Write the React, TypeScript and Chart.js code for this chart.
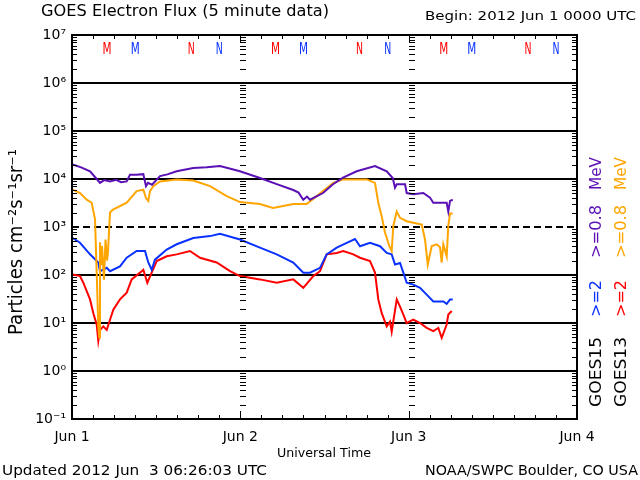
import React, { useEffect, useRef } from "react";
import { Chart, registerables } from "chart.js";

Chart.register(...registerables);

// ---------- DATA ----------
// hours since 2012 Jun 1 00:00 UTC
const purpleHours = [0.1, 1.3, 2.57, 3.4, 3.99, 4.6, 5.42, 6.3, 7.0, 7.8, 8.27, 9.2, 10.17, 10.55, 10.84, 11.4, 12.55, 13.6, 14.93, 17.29, 19.2, 21.1, 23.95, 26.8, 29.19, 31.55, 32.3, 32.98, 33.5, 33.93, 35.79, 37.21, 38.64, 40.59, 43.2, 44.87, 45.73, 46.05, 46.3, 47.48, 47.72, 48.66, 50.09, 51.04, 51.51, 53.42, 53.65, 53.9, 54.28];
const purpleFlux = [2.0e4, 1.75e4, 1.45e4, 1.05e4, 8.3e3, 9.5e3, 8.9e3, 9.6e3, 8.6e3, 8.9e3, 1.23e4, 1.22e4, 1.26e4, 7.1e3, 8.3e3, 7.6e3, 1.15e4, 1.25e4, 1.45e4, 1.7e4, 1.75e4, 1.86e4, 1.45e4, 1.05e4, 7.8e3, 5.9e3, 5.2e3, 3.7e3, 4.3e3, 3.7e3, 5.1e3, 7.8e3, 1.07e4, 1.45e4, 1.86e4, 1.45e4, 1.05e4, 6.6e3, 7.8e3, 7.8e3, 5.1e3, 4.8e3, 5.1e3, 4.1e3, 3.2e3, 3.2e3, 2.1e3, 3.5e3, 3.7e3];

const orangeHours = [0.1, 1.14, 2.1, 2.81, 3.28, 3.52, 3.75, 3.89, 3.99, 4.13, 4.28, 4.56, 4.78, 4.99, 5.13, 5.42, 5.85, 7.8, 9.22, 10.17, 10.55, 10.88, 11.12, 11.59, 12.55, 14.93, 17.29, 19.68, 22.06, 23.95, 26.8, 28.66, 31.55, 33.46, 34.89, 37.26, 38.68, 42.02, 43.2, 43.67, 44.16, 44.63, 44.95, 45.24, 45.58, 45.81, 46.3, 46.77, 47.72, 48.66, 49.86, 50.33, 50.72, 51.29, 52.0, 52.47, 52.71, 52.94, 53.42, 53.65, 53.9, 54.28];
const orangeFlux = [6.0e3, 5.1e3, 3.7e3, 3.2e3, 1.45e3, 112, 8.5, 5.0, 480, 160, 400, 80, 550, 200, 300, 2.0e3, 2.3e3, 3.2e3, 5.6e3, 6.0e3, 4.0e3, 3.5e3, 5.6e3, 7.1e3, 8.9e3, 9.8e3, 9.3e3, 7.1e3, 4.4e3, 3.3e3, 3.0e3, 2.5e3, 3.0e3, 3.0e3, 4.4e3, 8.3e3, 9.8e3, 9.8e3, 8.3e3, 3.2e3, 1.66e3, 760, 550, 400, 316, 1.05e3, 2.1e3, 1.55e3, 1.32e3, 1.23e3, 1.12e3, 550, 166, 400, 436, 380, 182, 436, 245, 1.05e3, 1.9e3, 1.9e3];

const blueHours = [0.1, 1.14, 2.57, 3.75, 3.99, 4.95, 5.42, 6.84, 7.8, 9.22, 10.41, 10.88, 11.36, 11.83, 13.5, 14.93, 17.29, 19.68, 21.1, 23.95, 26.8, 29.19, 31.55, 32.98, 33.93, 35.36, 36.31, 37.74, 39.17, 40.35, 41.06, 42.49, 43.92, 44.87, 45.58, 46.05, 46.77, 47.24, 47.72, 48.66, 49.62, 50.57, 51.51, 52.94, 53.42, 53.9, 54.28];
const blueFlux = [590, 470, 270, 182, 120, 141, 120, 151, 229, 316, 316, 182, 129, 209, 339, 437, 589, 646, 724, 550, 372, 269, 182, 112, 112, 141, 269, 372, 468, 562, 398, 468, 398, 288, 269, 166, 178, 112, 69, 63, 54, 39, 28, 28, 25, 31, 31];

const redHours = [0.1, 1.14, 1.61, 2.57, 3.04, 3.52, 3.75, 3.99, 4.46, 4.95, 5.42, 5.89, 6.84, 7.8, 8.51, 9.7, 10.17, 10.74, 11.36, 12.08, 13.5, 14.93, 16.82, 18.25, 20.63, 22.53, 23.95, 26.8, 29.19, 31.55, 32.98, 34.4, 35.36, 36.31, 37.74, 38.68, 40.11, 41.06, 42.49, 43.2, 43.67, 44.16, 44.87, 45.34, 45.58, 46.3, 46.77, 47.24, 47.72, 48.66, 49.62, 50.57, 51.51, 52.23, 52.71, 53.42, 53.65, 54.14];
const redFlux = [102, 95, 69, 31, 16, 9.3, 4.2, 7.1, 8.5, 7.2, 11.7, 19, 31, 43, 81, 112, 129, 69, 112, 195, 245, 269, 316, 229, 182, 120, 95, 81, 69, 81, 54, 95, 120, 269, 288, 316, 269, 229, 195, 112, 31, 16, 8.5, 10.7, 6.6, 31, 22, 15, 10, 11.7, 10, 7.9, 6.8, 7.9, 4.9, 9.3, 15, 17.8];

const yTickValues = [0.1, 1, 10, 100, 1e3, 1e4, 1e5, 1e6, 1e7];
const yTickLabels = ["10⁻¹", "10⁰", "10¹", "10²", "10³", "10⁴", "10⁵", "10⁶", "10⁷"];
const xTickHours = [0, 24, 48, 72];
const xTickLabels = ["Jun 1", "Jun 2", "Jun 3", "Jun 4"];

// local midnight (M) / noon (N) markers, hours UT
const goes13MidnightHours = [5, 29, 53];
const goes13NoonHours = [17, 41, 65];
const goes15MidnightHours = [9, 33, 57];
const goes15NoonHours = [21, 45, 69];

const PURPLE = "#5a10b4";
const ORANGE = "#ffa500";
const BLUE = "#0a32ff";
const RED = "#ff0000";
const FONT = "'DejaVu Sans'";

function fitText(
  ctx: CanvasRenderingContext2D,
  text: string,
  x: number,
  y: number,
  w: number,
  size: number,
  align: CanvasTextAlign,
  color: string,
  rotate = 0
) {
  ctx.save();
  ctx.font = `${size}px ${FONT}`;
  const m = ctx.measureText(text).width;
  const sx = w / m;
  ctx.translate(x, y);
  if (rotate) ctx.rotate(rotate);
  ctx.scale(sx, 1);
  ctx.textAlign = align;
  ctx.textBaseline = "middle";
  ctx.fillStyle = color;
  ctx.fillText(text, 0, 0);
  ctx.restore();
}

const framePlugin = {
  id: "goesFrame",
  afterDatasetsDraw(chart: any) {
    const ctx: CanvasRenderingContext2D = chart.ctx;
    const { left, right, top, bottom } = chart.chartArea;
    const xs = chart.scales.x;
    const ys = chart.scales.y;
    ctx.save();
    ctx.strokeStyle = "#000";
    // frame
    ctx.lineWidth = 2;
    ctx.strokeRect(left, top, right - left, bottom - top);
    // minor y ticks
    ctx.lineWidth = 1;
    ctx.beginPath();
    const dayX = [24, 48].map((h) => Math.round(xs.getPixelForValue(h)));
    for (let d = -1; d < 7; d++) {
      for (let k = 2; k <= 9; k++) {
        const y = Math.round(ys.getPixelForValue(k * Math.pow(10, d))) + 0.5;
        ctx.moveTo(left, y);
        ctx.lineTo(left + 5, y);
        ctx.moveTo(right - 5, y);
        ctx.lineTo(right, y);
        for (const dx of dayX) {
          ctx.moveTo(dx, y);
          ctx.lineTo(dx + 6, y);
        }
      }
    }
    ctx.stroke();
    // x ticks every 3h
    ctx.beginPath();
    for (let h = 3; h < 72; h += 3) {
      const x = Math.round(xs.getPixelForValue(h)) + 0.5;
      const len = h % 24 === 0 ? 8 : 4;
      ctx.moveTo(x, top);
      ctx.lineTo(x, top + len);
      ctx.moveTo(x, bottom);
      ctx.lineTo(x, bottom - len);
    }
    ctx.stroke();
    ctx.restore();

    // M / N markers
    const markers: [number[], string, string][] = [
      [goes13MidnightHours, "M", RED],
      [goes15MidnightHours, "M", BLUE],
      [goes13NoonHours, "N", RED],
      [goes15NoonHours, "N", BLUE],
    ];
    for (const [hours, label, color] of markers) {
      for (const h of hours) {
        fitText(ctx, label, xs.getPixelForValue(h), 50, label === "M" ? 9 : 7, 15, "center", color);
      }
    }

    // titles
    fitText(ctx, "GOES Electron Flux (5 minute data)", 41, 12, 288, 15, "left", "#000");
    fitText(ctx, "Begin: 2012 Jun 1 0000 UTC", 636, 16.5, 211, 13, "right", "#000");
    fitText(ctx, "Universal Time", 324, 454, 94, 13, "center", "#000");
    fitText(ctx, "Updated 2012 Jun  3 06:26:03 UTC", 2, 471, 265, 14, "left", "#000");
    fitText(ctx, "NOAA/SWPC Boulder, CO USA", 638, 471, 213, 14, "right", "#000");
    fitText(ctx, "Particles cm⁻²s⁻¹sr⁻¹", 17, 242, 186, 19, "center", "#000", -Math.PI / 2);

    // right-side legend
    const cols: [number, string, string, string][] = [
      [596.5, "GOES15", BLUE, PURPLE],
      [621.5, "GOES13", RED, ORANGE],
    ];
    for (const [cx, sat, c2, c08] of cols) {
      fitText(ctx, sat, cx, 372, 70, 16, "center", "#000", -Math.PI / 2);
      fitText(ctx, ">=2", cx, 298.5, 37, 16, "center", c2, -Math.PI / 2);
      fitText(ctx, ">=0.8", cx, 231.5, 53, 16, "center", c08, -Math.PI / 2);
      fitText(ctx, "MeV", cx, 173.5, 33, 16, "center", c08, -Math.PI / 2);
    }
  },
};

function toPoints(hours: number[], flux: number[]) {
  return hours.map((h, i) => ({ x: h, y: flux[i] }));
}

export default function App() {
  const canvasRef = useRef<HTMLCanvasElement | null>(null);

  useEffect(() => {
    document.body.style.margin = "0";
    const canvas = canvasRef.current;
    if (!canvas) return;
    const ds = (label: string, hours: number[], flux: number[], color: string) => ({
      label,
      data: toPoints(hours, flux),
      borderColor: color,
      backgroundColor: color,
      borderWidth: 2,
      pointRadius: 0,
      tension: 0,
      fill: false,
    });
    const chart = new Chart(canvas, {
      type: "line",
      data: {
        datasets: [
          ds("GOES15 >=0.8 MeV", purpleHours, purpleFlux, PURPLE),
          ds("GOES13 >=0.8 MeV", orangeHours, orangeFlux, ORANGE),
          ds("GOES15 >=2 MeV", blueHours, blueFlux, BLUE),
          ds("GOES13 >=2 MeV", redHours, redFlux, RED),
        ],
      },
      options: {
        animation: false,
        responsive: false,
        maintainAspectRatio: false,
        devicePixelRatio: 1,
        layout: { padding: { left: 0, right: 63, top: 35, bottom: 0 } },
        plugins: {
          legend: { display: false },
          tooltip: { enabled: false },
          title: { display: false },
        },
        scales: {
          x: {
            type: "linear",
            min: 0,
            max: 72,
            afterBuildTicks: (s: any) => {
              s.ticks = xTickHours.map((v) => ({ value: v }));
            },
            afterFit: (s: any) => {
              s.height = 61;
            },
            ticks: {
              color: "#000",
              font: { family: "DejaVu Sans", size: 14 },
              padding: 10,
              maxRotation: 0,
              autoSkip: false,
              callback: (_v: any, i: number) => xTickLabels[i],
            },
            grid: { display: false, drawTicks: false },
            border: { display: false },
          },
          y: {
            type: "logarithmic",
            min: 0.1,
            max: 1e7,
            afterBuildTicks: (s: any) => {
              s.ticks = yTickValues.map((v) => ({ value: v }));
            },
            afterFit: (s: any) => {
              s.width = 72;
            },
            ticks: {
              color: "#000",
              font: { family: "DejaVu Sans", size: 14 },
              padding: 6,
              autoSkip: false,
              callback: (_v: any, i: number) => yTickLabels[i],
            },
            grid: {
              drawTicks: false,
              lineWidth: 2,
              color: (c: any) =>
                c.tick && (c.tick.value === 0.1 || c.tick.value === 1e7) ? "rgba(0,0,0,0)" : "#000",
            },
            border: {
              display: false,
              dash: (c: any) => (c.tick && c.tick.value === 1e3 ? [7, 4] : []),
            },
          },
        },
      },
      plugins: [framePlugin],
    });
    return () => chart.destroy();
  }, []);

  return (
    <div style={{ position: "absolute", left: 0, top: 0, width: 640, height: 480, background: "#fff" }}>
      <canvas ref={canvasRef} width={640} height={480} style={{ width: 640, height: 480 }} />
    </div>
  );
}
